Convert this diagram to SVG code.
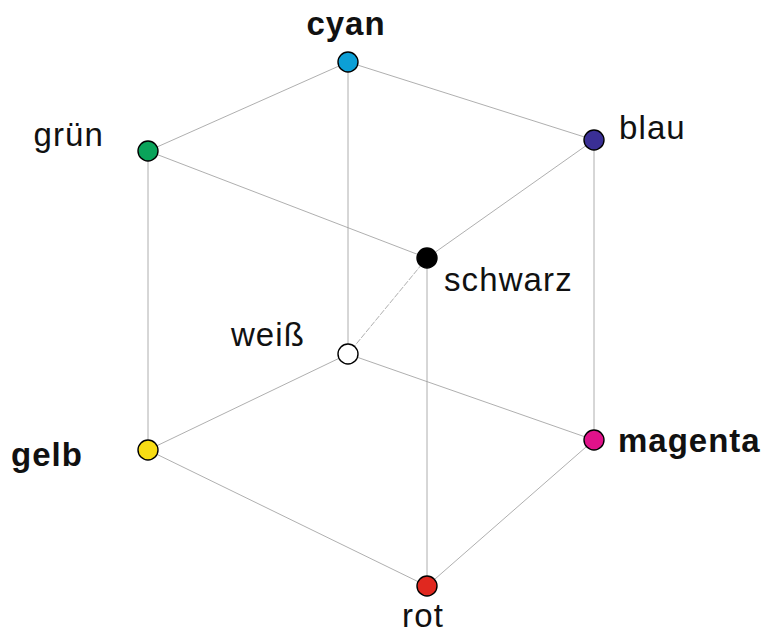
<svg xmlns="http://www.w3.org/2000/svg" width="765" height="634" viewBox="0 0 765 634">
<style>
.e{stroke:#9a9a9a;stroke-width:0.8;fill:none}
.d{stroke:#9a9a9a;stroke-width:0.8;fill:none;stroke-dasharray:6 1.5}
.n{stroke:#000;stroke-width:1.4}
.t{font-family:"Liberation Sans",Arial,sans-serif;font-size:33px;fill:#111;letter-spacing:1.1px}
.b{font-weight:bold;letter-spacing:1px}
</style>
<rect width="765" height="634" fill="#fff"/>
<g id="connectors">
<line class="e" x1="348" y1="62" x2="148" y2="151"/>
<line class="e" x1="348" y1="62" x2="594" y2="140"/>
<line class="e" x1="348" y1="62" x2="348" y2="354"/>
<line class="e" x1="148" y1="151" x2="427" y2="258"/>
<line class="e" x1="148" y1="151" x2="148" y2="450"/>
<line class="e" x1="594" y1="140" x2="427" y2="258"/>
<line class="e" x1="594" y1="140" x2="594" y2="440"/>
<line class="e" x1="427" y1="258" x2="427" y2="586"/>
<line class="d" x1="427" y1="258" x2="348" y2="354"/>
<line class="e" x1="348" y1="354" x2="148" y2="450"/>
<line class="e" x1="348" y1="354" x2="594" y2="440"/>
<line class="e" x1="148" y1="450" x2="427" y2="586"/>
<line class="e" x1="594" y1="440" x2="427" y2="586"/>
</g>
<g id="cyan"><circle class="n" cx="348" cy="62" r="10" fill="#0c9fd6"/><text class="t b" x="346" y="35" text-anchor="middle">cyan</text></g>
<g id="gruen"><circle class="n" cx="148" cy="151" r="10" fill="#0aa35a"/><text class="t" x="104" y="146" text-anchor="end">grün</text></g>
<g id="blau"><circle class="n" cx="594" cy="140" r="10" fill="#3a2f95"/><text class="t" x="619" y="139">blau</text></g>
<g id="schwarz"><circle class="n" cx="427" cy="258" r="10" fill="#000"/><text class="t" x="444" y="291">schwarz</text></g>
<g id="weiss"><circle class="n" cx="348" cy="354" r="10" fill="#fff"/><text class="t" x="305" y="346" text-anchor="end">weiß</text></g>
<g id="gelb"><circle class="n" cx="148" cy="450" r="10" fill="#f7dc14"/><text class="t b" x="11" y="466">gelb</text></g>
<g id="magenta"><circle class="n" cx="594" cy="440" r="10" fill="#e0128a"/><text class="t b" x="618" y="452">magenta</text></g>
<g id="rot"><circle class="n" cx="427" cy="586" r="10" fill="#e0281f"/><text class="t" x="423" y="627" text-anchor="middle">rot</text></g>
</svg>
